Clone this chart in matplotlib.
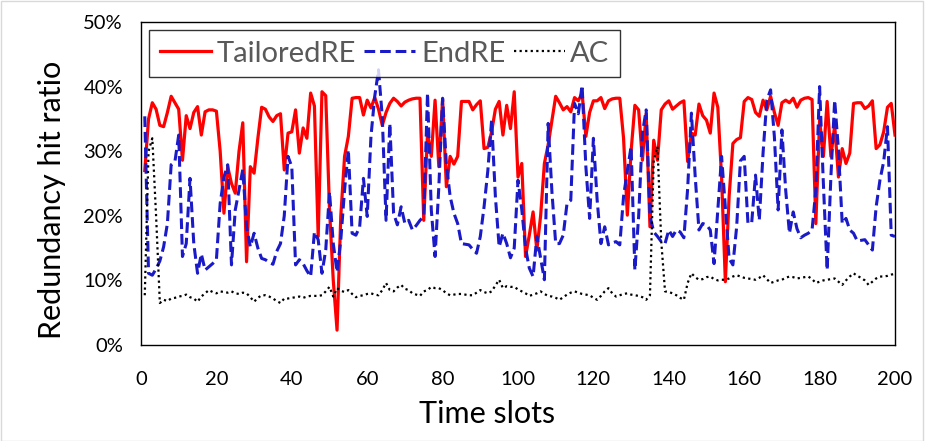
import matplotlib
matplotlib.use("Agg")
import matplotlib.pyplot as plt
import numpy as np

time_slots = list(range(1, 201))

tailored_re = [
    27, 35, 37.5, 36.5, 34, 33.8, 36, 38.5, 37.5, 36.5,
    28.6, 35.5, 33.5, 36, 36.9, 32.5, 36.1, 36.4, 36.4, 36.2,
    30, 20.4, 27.6, 25, 23.5, 30, 34.4, 12.9, 27.6, 26.6,
    32, 36.8, 36.5, 35.3, 34.6, 35.5, 35.8, 27.1, 32.8, 33,
    36.4, 29.7, 33.6, 32, 39, 37, 16.8, 39.2, 38.6, 21,
    10, 2.3, 20, 29.2, 32.3, 38.2, 38.3, 38.3, 35.6, 37.9,
    36.7, 38.3, 36.5, 34, 36, 37.4, 38.2, 37.7, 37, 37.6,
    37.9, 38.1, 38.2, 38.2, 19.3, 32.8, 29.2, 37.9, 27.6, 38,
    24.5, 29.2, 28, 29.2, 37.7, 37.7, 37.7, 36.4, 37.2, 37.8,
    30.4, 30.6, 33, 36.5, 37.7, 32.5, 37.1, 33.5, 39.2, 26,
    28.1, 13.7, 17, 20.6, 14.7, 20, 28.1, 31, 34.8, 38.5,
    37.5, 36.4, 36.9, 36.1, 38.3, 37.8, 39, 32.3, 36, 37.8,
    37.8, 38.3, 36.6, 37.8, 38.1, 38.2, 38.2, 32, 20.1, 30,
    37.1, 36.4, 28.6, 35.8, 18.3, 31.7, 28.6, 36.4, 37.3, 37.8,
    36.5, 37, 37.5, 37.8, 28.4, 32.8, 32.5, 37.3, 35.5, 34.8,
    32.8, 39, 36.8, 26, 9.8, 23, 31.2, 31.8, 32.1, 37.7,
    38.3, 38, 36, 35.4, 37.9, 36.4, 38.5, 36, 34, 37.5,
    37.9, 37.5, 38.2, 36.8, 37.9, 38.2, 38.3, 38, 18.8, 34.8,
    29.2, 37.7, 29.2, 34, 26, 30.4, 28.1, 29.7, 37.4, 37.5,
    37.5, 36.6, 37, 37.8, 30.4, 31, 33, 36.8, 37.4, 32.5,
]

end_re = [
    35.4, 11.1, 10.8, 11.8, 13, 15.2, 18.8, 27.9, 28.4, 32.5,
    13.7, 15.7, 25.8, 15.7, 11.1, 14.1, 11.6, 12.1, 12.6, 13.2,
    21.9, 26, 27.9, 12.4, 20.9, 24, 27.2, 18.3, 15.2, 17.3,
    15, 13.4, 13.2, 12.8, 12.5, 14.5, 15.7, 20, 29.2, 27.6,
    12.4, 13.2, 12.6, 11.5, 10.6, 17.5, 16.3, 11.1, 14.7, 23.7,
    15.7, 11.3, 16.3, 24, 30.2, 17.3, 17, 18.3, 25.8, 19.9,
    32.3, 38.5, 42.6, 35.3, 19.3, 34.3, 20.4, 18.6, 21.4, 18.8,
    19.3, 17.8, 18.5, 19.3, 19.9, 39, 20.9, 13.7, 24.5, 38.2,
    28, 23, 20.4, 18.8, 15.7, 15.6, 15.5, 14.8, 14.2, 16.8,
    21.4, 27, 34.8, 23, 15.2, 17.3, 15.7, 13.5, 15, 25.5,
    21, 15, 11.9, 10.6, 16.8, 13.4, 10.1, 34.3, 23.7, 15.7,
    15.7, 17, 21.9, 22.4, 37.4, 35.8, 40.2, 27.6, 19.6, 32,
    22.4, 15.7, 18.3, 15.5, 15.8, 16, 15.5, 23, 27, 30.7,
    11.6, 19.9, 32.8, 36.4, 20, 17.5, 16.8, 16, 15.7, 17.8,
    16.8, 17.8, 17.5, 16.6, 24.2, 35.9, 26.1, 17.8, 18.8, 18.6,
    17.8, 12.6, 20.9, 29.2, 21.4, 13.4, 12.4, 18.3, 28.5, 29.2,
    18.8, 19, 26.3, 19.3, 29.7, 37.9, 39.5, 32.3, 20.9, 33.3,
    24, 17.3, 20.6, 18, 16.6, 17, 17.3, 17.8, 24, 40,
    25, 11.6, 26.1, 37.9, 30.2, 18.8, 19.6, 17.8, 17.3, 16.1,
    16.2, 16.3, 15.5, 14.7, 21.4, 25.5, 28.4, 33.8, 17, 16.8,
]

ac = [
    7.7, 30, 32, 20, 6.5, 7, 6.8, 7.2, 7.3, 7.5,
    7.6, 7.8, 7.4, 7.2, 6.7, 7.5, 8, 8.5, 8.2, 8,
    8.3, 8.2, 8.1, 8.3, 8, 7.9, 8.1, 8, 7.4, 6.7,
    7.3, 7.7, 7.7, 7.5, 7.2, 6.8, 6.5, 7.2, 7.2, 7.3,
    7.4, 7.5, 7.3, 7.5, 7.6, 7.6, 7.6, 7.7, 8.3, 9,
    7.5, 8.8, 8.4, 8.2, 8.5, 7.9, 7.4, 7.6, 7.7, 7.9,
    8, 7.8, 7.7, 8.5, 9.6, 8.5, 8.3, 8.9, 9.3, 8.7,
    8.5, 8, 7.8, 7.6, 8.3, 8.5, 9, 8.8, 8.8, 8.5,
    8, 7.7, 7.8, 7.9, 7.9, 7.8, 7.7, 7.7, 8.1, 8.5,
    8.2, 8, 8.3, 9.2, 10.1, 8.8, 9.1, 9, 9, 8.6,
    8.3, 8, 7.6, 7.8, 8, 8.3, 7.9, 7.6, 7.5, 7.3,
    7, 7.4, 7.8, 8.1, 8.3, 8.1, 7.9, 7.8, 7.7, 7.3,
    7, 7.6, 8.3, 8.8, 8, 7.5, 7.7, 7.9, 8, 7.8,
    7.7, 7.6, 7.4, 7, 7.7, 28.6, 30.7, 16, 8.3, 8.2,
    8, 7.7, 7.3, 7, 9.6, 11.1, 10.5, 10.1, 10.2, 10.5,
    10.6, 10.2, 10, 10.1, 10.1, 10.3, 10.6, 10.8, 10.6, 10.4,
    10.3, 10.2, 10.1, 10.4, 10.8, 10.2, 9.6, 9.8, 10, 10.1,
    10.4, 10.6, 10.5, 10.3, 10.4, 10.5, 10.6, 10.2, 9.6, 9.8,
    10, 10.1, 10.2, 10.3, 9.8, 9.3, 10, 10.6, 11.1, 10.7,
    10.4, 10, 9.3, 9.8, 10.3, 10.6, 10.6, 10.7, 10.9, 11,
]

x_ticks = [0, 20, 40, 60, 80, 100, 120, 140, 160, 180, 200]
y_ticks = [0, 10, 20, 30, 40, 50]
y_tick_labels = ["0%", "10%", "20%", "30%", "40%", "50%"]

plt.rcParams['font.family'] = ['Lato', 'DejaVu Sans']

fig = plt.figure(figsize=(9.25, 4.41), dpi=100)
ax = fig.add_axes([141/925, 1 - 345/441, (895-141)/925, (345-22)/441])

ax.plot(time_slots, tailored_re, color='#FF0000', lw=2.3, label='TailoredRE', zorder=3)
ax.plot(time_slots, end_re, color='#1A1AC8', lw=2.2, linestyle=(0, (3.5, 1.6)), label='EndRE', zorder=4)
ax.plot(time_slots, ac, color='black', lw=1.6, linestyle=(0, (1, 1.5)), label='AC', zorder=5)

ax.set_xlim(0, 200)
ax.set_ylim(0, 50)
ax.set_xticks(x_ticks)
ax.set_yticks(y_ticks)
ax.set_yticklabels(y_tick_labels)
ax.tick_params(axis='both', length=0, labelsize=14.5, colors='black')
ax.tick_params(axis='x', pad=19)
ax.tick_params(axis='y', pad=13)
for s in ax.spines.values():
    s.set_color('black')
    s.set_linewidth(1.0)

ax.set_xlabel('Time slots', fontsize=22)
ax.xaxis.set_label_coords(0.459, -0.17)
ax.set_ylabel('Redundancy hit ratio', fontsize=22)
ax.yaxis.set_label_coords(-0.10, 0.45)

leg = ax.legend(loc='upper left', bbox_to_anchor=(0.011, 0.975), ncol=3, frameon=True,
                fontsize=21, handlelength=1.75, columnspacing=0.28, handletextpad=0.2,
                borderpad=0.36, borderaxespad=0.0, fancybox=False)
leg.get_frame().set_edgecolor('black')
leg.get_frame().set_linewidth(1.0)
for t in leg.get_texts():
    t.set_color('#595959')

fig.patches.append(plt.Rectangle((0.001, 0.001), 0.997, 0.997, transform=fig.transFigure,
                                 fill=False, edgecolor='#D9D9D9', lw=1.0))

fig.savefig('out.png', dpi=100)
